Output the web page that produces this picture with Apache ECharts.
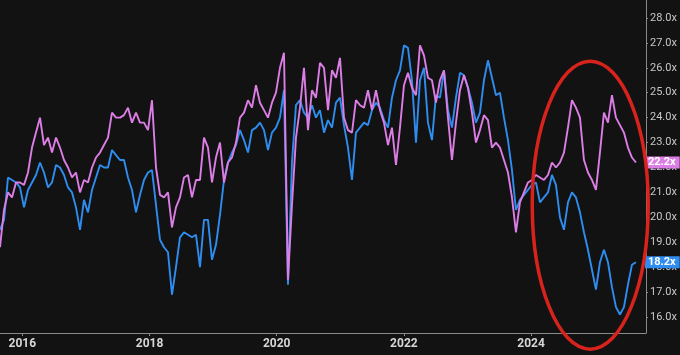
<!DOCTYPE html>
<html>
<head>
<meta charset="utf-8">
<script src="https://cdn.jsdelivr.net/npm/echarts@6/dist/echarts.min.js"></script>
<style>
  html, body { margin: 0; padding: 0; background: #121212; }
  #chart { width: 680px; height: 355px; }
</style>
</head>
<body>
<div id="chart"></div>
<script>
// sample grid: first sample and spacing, in fractional years
const startYear = 2015.649;
const stepYears = 0.062893;

const yearTicks = [2016, 2018, 2020, 2022, 2024];
const multipleTicks = [16, 17, 18, 19, 20, 21, 22, 23, 24, 25, 26, 27, 28];

// pink series (P/E multiple, x)
const pinkVals = [
  18.8, 20.3, 21.0, 20.8, 21.4, 21.4, 21.3, 21.8, 22.8, 23.4,
  24.0, 22.9, 23.2, 22.6, 23.2, 22.8, 22.3, 22.0, 21.6, 21.8,
  21.0, 21.5, 21.4, 22.0, 22.4, 22.6, 22.9, 23.2, 24.2, 24.0,
  24.0, 24.1, 24.4, 23.8, 24.2, 23.8, 23.8, 23.5, 24.7, 22.0,
  20.9, 20.8, 21.0, 19.6, 20.4, 20.8, 21.6, 21.7, 20.8, 21.5,
  21.5, 23.2, 22.8, 21.4, 22.4, 23.0, 21.4, 22.2, 22.4, 23.0,
  24.0, 24.2, 24.7, 24.4, 25.3, 24.6, 24.3, 24.0, 24.6, 25.0,
  26.0, 26.6, 17.5, 20.5, 23.2, 24.4, 26.0, 23.5, 25.1, 24.8,
  26.2, 26.0, 24.3, 25.9, 25.6, 26.4, 24.0, 23.5, 23.4, 24.7,
  24.5, 24.4, 25.1, 24.3, 25.1, 24.3, 23.8, 22.9, 23.6, 22.1,
  23.6, 25.3, 25.8, 25.2, 24.9, 26.9, 26.5, 25.6, 25.5, 24.6,
  25.5, 25.9, 24.0, 22.3, 23.8, 25.1, 25.7, 25.2, 24.2, 23.0,
  23.5, 24.1, 23.9, 22.8, 23.0, 22.8, 22.3, 21.8, 20.8, 19.4,
  20.6, 21.0, 21.4, 21.5, 21.7, 21.6, 21.5, 21.7, 22.2, 22.0,
  22.2, 22.6, 23.6, 24.7, 24.4, 24.0, 22.3, 21.8, 21.5, 21.1,
  22.6, 24.2, 23.8, 24.9, 24.0, 23.7, 23.4, 22.8, 22.4, 22.2
];

// blue series (P/E multiple, x)
const blueVals = [
  19.5, 19.9, 21.6, 21.5, 21.4, 21.2, 20.4, 21.1, 21.4, 21.7,
  22.2, 21.8, 21.2, 21.4, 22.1, 22.0, 21.7, 21.2, 21.0, 20.4,
  19.5, 20.7, 20.2, 21.1, 21.6, 22.1, 22.0, 22.0, 22.7, 22.5,
  22.3, 22.3, 21.6, 21.1, 20.2, 20.9, 21.5, 21.8, 21.9, 20.5,
  19.1, 18.8, 18.6, 16.9, 18.0, 19.2, 19.4, 19.3, 19.2, 19.3,
  18.0, 19.9, 19.9, 18.3, 18.9, 20.1, 21.5, 22.2, 22.6, 22.9,
  23.5, 23.1, 22.6, 23.5, 23.6, 23.8, 23.5, 22.7, 23.4, 23.6,
  24.0, 25.1, 17.3, 22.2, 24.5, 24.7, 24.2, 24.0, 24.5, 24.0,
  24.3, 23.4, 23.9, 23.6, 24.6, 24.8, 23.7, 22.8, 21.5, 23.4,
  23.6, 23.8, 23.7, 24.3, 24.6, 24.4, 23.9, 23.6, 24.8, 25.5,
  25.9, 26.9, 26.8, 25.5, 23.0, 25.5, 26.0, 23.8, 23.1, 24.9,
  24.8, 25.9, 24.3, 23.6, 24.8, 25.8, 25.7, 25.2, 24.6, 23.8,
  24.2, 25.5, 26.3, 25.6, 24.9, 25.0, 24.0, 23.1, 21.9, 20.3,
  20.7, 20.9, 21.1, 21.3, 21.4, 20.6, 20.8, 21.0, 21.7, 21.3,
  20.0, 19.5, 20.6, 21.0, 20.8, 20.2, 19.4, 18.7, 17.9, 17.1,
  18.2, 18.7, 18.2, 17.2, 16.4, 16.1, 16.4, 17.3, 18.1, 18.2
];

const pinkColor = '#dd7de6';
const blueColor = '#2f8df0';

function pairs(vals) {
  return vals.map(function (v, i) { return [startYear + i * stepYears, v]; });
}

function endLabel(color) {
  return {
    show: true,
    formatter: function (p) { return p.value[1].toFixed(1) + 'x'; },
    backgroundColor: color,
    color: '#ffffff',
    fontFamily: 'Roboto',
    fontWeight: 'bold',
    fontSize: 11,
    padding: [1, 4, 0, 3],
    distance: 9
  };
}

let chart = echarts.init(document.getElementById('chart'));

chart.setOption({
  backgroundColor: '#121212',
  animation: false,
  grid: { left: 0, right: 34, top: 0, bottom: 22 },
  xAxis: {
    type: 'value',
    min: 2015.649,
    max: 2025.807,
    splitLine: { show: false },
    axisLine: { lineStyle: { color: '#8a8a8a', width: 1 } },
    axisTick: { show: true, length: 3, customValues: yearTicks, lineStyle: { color: '#8a8a8a' } },
    axisLabel: {
      customValues: yearTicks,
      formatter: function (v) { return String(Math.round(v)); },
      color: '#d6d6d6',
      fontFamily: 'Roboto',
      fontWeight: 'bold',
      fontSize: 12,
      margin: 5
    }
  },
  yAxis: {
    type: 'value',
    position: 'right',
    min: 15.36,
    max: 28.72,
    splitLine: { show: false },
    axisLine: { show: true, lineStyle: { color: '#8a8a8a', width: 1 } },
    axisTick: { show: true, length: 2, customValues: multipleTicks, lineStyle: { color: '#8a8a8a' } },
    axisLabel: {
      customValues: multipleTicks,
      formatter: function (v) { return v.toFixed(1) + 'x'; },
      color: '#c8c8c8',
      fontFamily: 'Roboto',
      fontSize: 11,
      margin: 4
    }
  },
  series: [
    {
      name: 'blue',
      type: 'line',
      data: pairs(blueVals),
      showSymbol: false,
      lineStyle: { color: blueColor, width: 1.9 },
      itemStyle: { color: blueColor },
      endLabel: endLabel(blueColor),
      z: 3
    },
    {
      name: 'pink',
      type: 'line',
      data: pairs(pinkVals),
      showSymbol: false,
      lineStyle: { color: pinkColor, width: 1.9 },
      itemStyle: { color: pinkColor },
      endLabel: endLabel(pinkColor),
      z: 4
    }
  ]
});

// red ellipse round the last year and a half
let c = chart.convertToPixel({ gridIndex: 0 }, [2024.93, 20.49]);
chart.setOption({
  graphic: [{
    type: 'ellipse',
    shape: { cx: c[0], cy: c[1], rx: 58, ry: 144 },
    style: { fill: 'none', stroke: '#d8231d', lineWidth: 3.5 },
    z: 100
  }]
});
</script>
</body>
</html>
